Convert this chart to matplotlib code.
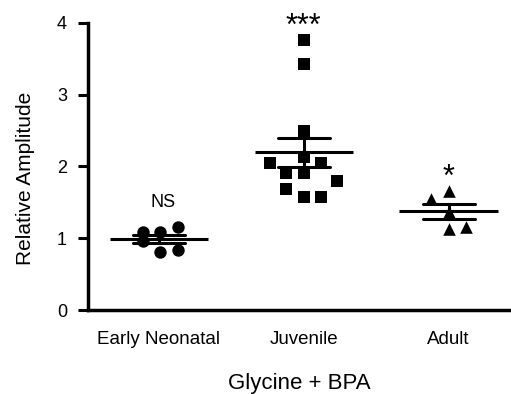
import numpy as np
import matplotlib
matplotlib.use("Agg")
import matplotlib.pyplot as plt

plt.rcParams['font.family'] = ['Liberation Sans', 'DejaVu Sans']

categories = ['Early Neonatal', 'Juvenile', 'Adult']
sig_labels = ['NS', '***', '*']

neonatal = [1.09, 0.96, 1.09, 0.81, 1.16, 0.84]
neonatal_dx = [-0.11, -0.11, 0.01, 0.01, 0.13, 0.13]

juvenile = [3.76, 3.43, 2.49, 2.13, 2.05, 1.91, 1.91, 2.05, 1.80, 1.69, 1.57, 1.57]
juvenile_dx = [0.0, 0.0, 0.0, 0.0, -0.23, -0.12, 0.0, 0.12, 0.23, -0.12, 0.0, 0.12]

adult = [1.66, 1.55, 1.37, 1.13, 1.16]
adult_dx = [0.0, -0.12, 0.0, 0.0, 0.12]

groups = [neonatal, juvenile, adult]
offsets = [neonatal_dx, juvenile_dx, adult_dx]
markers = ['o', 's', '^']
sizes = [80, 72, 82]
sig_y = [1.5, 3.95, 1.84]
sig_size = [13, 22, 22]

fig = plt.figure(figsize=(5.11, 3.94), dpi=100)
ax = fig.add_axes([0.172, 0.213, 0.828, 0.729])

for i, (vals, dx) in enumerate(zip(groups, offsets)):
    vals = np.array(vals)
    xs = i + np.array(dx)
    ax.scatter(xs, vals, marker=markers[i], s=sizes[i], color='black',
               linewidths=0, zorder=3, clip_on=False)
    m = vals.mean()
    sem = vals.std(ddof=1) / np.sqrt(len(vals))
    ax.plot([i - 0.34, i + 0.34], [m, m], color='black', lw=2.2, zorder=4,
            solid_capstyle='butt')
    ax.plot([i - 0.18, i + 0.18], [m + sem, m + sem], color='black', lw=2.2,
            zorder=4, solid_capstyle='round')
    ax.plot([i - 0.18, i + 0.18], [m - sem, m - sem], color='black', lw=2.2,
            zorder=4, solid_capstyle='round')
    ax.plot([i, i], [m - sem, m + sem], color='black', lw=2.2, zorder=4)
    ax.text(i + (0.03 if i == 0 else 0), sig_y[i], sig_labels[i],
            ha='center', va='center', fontsize=sig_size[i], clip_on=False)

ax.set_xlim(-0.49, 2.43)
ax.set_ylim(0, 4)
ax.set_yticks([0, 1, 2, 3, 4])
ax.set_xticks([0, 1, 2])
ax.set_xticklabels(categories, fontsize=13.5)
ax.tick_params(axis='x', length=0, pad=15)
ax.tick_params(axis='y', length=7, width=2.2, labelsize=13, pad=8)
ax.set_ylabel('Relative Amplitude', fontsize=15)
ax.yaxis.set_label_coords(-0.125, 0.46)
ax.set_xlabel('Glycine + BPA', fontsize=16, labelpad=18)

for s in ['top', 'right']:
    ax.spines[s].set_visible(False)
for s in ['left', 'bottom']:
    ax.spines[s].set_linewidth(2.5)

fig.savefig('out.png', dpi=100)
